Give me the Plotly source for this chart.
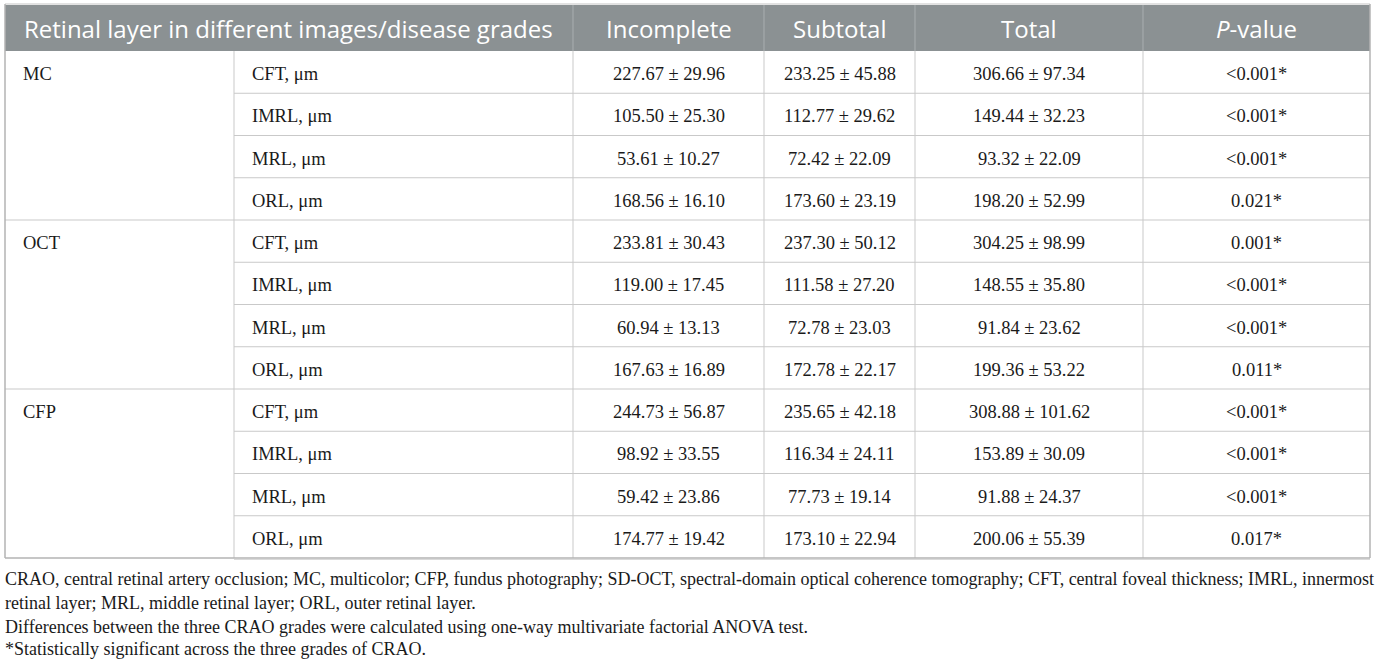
import plotly.graph_objects as go

# table content
groups = ["MC", "OCT", "CFP"]
layers = ["CFT, μm", "IMRL, μm", "MRL, μm", "ORL, μm"]
headers = ["Retinal layer in different images/disease grades", "Incomplete",
           "Subtotal", "Total", "<i>P</i>-value"]

incomplete = ["227.67 ± 29.96", "105.50 ± 25.30", "53.61 ± 10.27", "168.56 ± 16.10",
              "233.81 ± 30.43", "119.00 ± 17.45", "60.94 ± 13.13", "167.63 ± 16.89",
              "244.73 ± 56.87", "98.92 ± 33.55", "59.42 ± 23.86", "174.77 ± 19.42"]
subtotal = ["233.25 ± 45.88", "112.77 ± 29.62", "72.42 ± 22.09", "173.60 ± 23.19",
            "237.30 ± 50.12", "111.58 ± 27.20", "72.78 ± 23.03", "172.78 ± 22.17",
            "235.65 ± 42.18", "116.34 ± 24.11", "77.73 ± 19.14", "173.10 ± 22.94"]
total = ["306.66 ± 97.34", "149.44 ± 32.23", "93.32 ± 22.09", "198.20 ± 52.99",
         "304.25 ± 98.99", "148.55 ± 35.80", "91.84 ± 23.62", "199.36 ± 53.22",
         "308.88 ± 101.62", "153.89 ± 30.09", "91.88 ± 24.37", "200.06 ± 55.39"]
pvalue = ["<0.001*", "<0.001*", "<0.001*", "0.021*",
          "0.001*", "<0.001*", "<0.001*", "0.011*",
          "<0.001*", "<0.001*", "<0.001*", "0.017*"]

footnotes = [
    "CRAO, central retinal artery occlusion; MC, multicolor; CFP, fundus photography; SD-OCT, "
    "spectral-domain optical coherence tomography; CFT, central foveal thickness; IMRL, innermost",
    "retinal layer; MRL, middle retinal layer; ORL, outer retinal layer.",
    "Differences between the three CRAO grades were calculated using one-way multivariate factorial ANOVA test.",
    "*Statistically significant across the three grades of CRAO.",
]

# geometry (pixels)
W, H = 1377, 663
edges = [5, 234, 573, 764, 915, 1143, 1370]
top, head_bot, row_h = 5, 51, 42.25
n_rows = len(groups) * len(layers)
bottom = head_bot + n_rows * row_h

header_fill = "#8b9193"
grid = "#c9c9c9"
border = "#b3b3b3"
ink = "#1a1a1a"
serif = "Liberation Serif"
sans = "Open Sans"


def row_mid(i):
    # text sits a touch below the geometric centre of each row
    return head_bot + (i + 0.5) * row_h + 2


fig = go.Figure()
shapes = []
ann = []

# header band
shapes.append(dict(type="rect", x0=edges[0], x1=edges[-1], y0=top, y1=head_bot,
                   fillcolor=header_fill, line=dict(width=0), layer="below"))
shapes.append(dict(type="line", x0=edges[0], x1=edges[-1], y0=top - 1, y1=top - 1,
                   line=dict(color="#d8d8d8", width=1.5)))
for x in edges[2:-1]:
    shapes.append(dict(type="line", x0=x, x1=x, y0=top, y1=head_bot,
                       line=dict(color="#a9aeb0", width=1)))

# body grid
for i in range(1, n_rows):
    x0 = edges[0] if i % len(layers) == 0 else edges[1]
    y = head_bot + i * row_h
    shapes.append(dict(type="line", x0=x0, x1=edges[-1], y0=y, y1=y,
                       line=dict(color=grid, width=1)))
for x in edges[1:-1]:
    shapes.append(dict(type="line", x0=x, x1=x, y0=head_bot, y1=bottom,
                       line=dict(color=grid, width=1)))
# outer border
shapes.append(dict(type="line", x0=edges[0], x1=edges[0], y0=top - 1, y1=bottom,
                   line=dict(color=border, width=1.5)))
shapes.append(dict(type="line", x0=edges[-1], x1=edges[-1], y0=top - 1, y1=bottom,
                   line=dict(color=border, width=1.5)))
shapes.append(dict(type="line", x0=edges[0], x1=edges[-1], y0=bottom, y1=bottom,
                   line=dict(color=border, width=1.5)))
shapes.append(dict(type="line", x0=edges[1], x1=edges[-1], y0=bottom + 1.5, y1=bottom + 1.5,
                   line=dict(color="#dadada", width=1)))

# header text
hx = [22, (edges[2] + edges[3]) / 2, (edges[3] + edges[4]) / 2,
      (edges[4] + edges[5]) / 2, (edges[5] + edges[6]) / 2]
for k, (label, x) in enumerate(zip(headers, hx)):
    ann.append(dict(x=x, y=(top + head_bot) / 2, text=label, showarrow=False,
                    xanchor="left" if k == 0 else "center", yanchor="middle",
                    font=dict(family=sans, size=24, color="white")))

# group labels
body = dict(family=serif, size=18.5, color=ink)
for g, name in enumerate(groups):
    ann.append(dict(x=21, y=row_mid(g * len(layers)), text=name, showarrow=False,
                    xanchor="left", yanchor="middle", font=body))

# body cells
for i in range(n_rows):
    y = row_mid(i)
    ann.append(dict(x=edges[1] + 16, y=y, text=layers[i % len(layers)], showarrow=False,
                    xanchor="left", yanchor="middle", font=body))
    for col, vals in enumerate([incomplete, subtotal, total, pvalue]):
        ann.append(dict(x=(edges[col + 2] + edges[col + 3]) / 2, y=y, text=vals[i],
                        showarrow=False, xanchor="center", yanchor="middle", font=body))

# footnotes
foot_y = [579, 603, 627, 649]
for txt, y in zip(footnotes, foot_y):
    ann.append(dict(x=3, y=y, text=txt, showarrow=False, xanchor="left", yanchor="middle",
                    font=dict(family=serif, size=18, color=ink)))

fig.update_layout(
    width=W, height=H,
    margin=dict(l=0, r=0, t=0, b=0),
    paper_bgcolor="white", plot_bgcolor="white",
    xaxis=dict(range=[0, W], visible=False, fixedrange=True),
    yaxis=dict(range=[H, 0], visible=False, fixedrange=True),
    shapes=shapes, annotations=ann, showlegend=False,
)

# drop the default 8px page margin so the figure sits at the window's corner
fig.write_html("out.html", config={"displayModeBar": False},
               post_script="document.body.style.margin='0';")
